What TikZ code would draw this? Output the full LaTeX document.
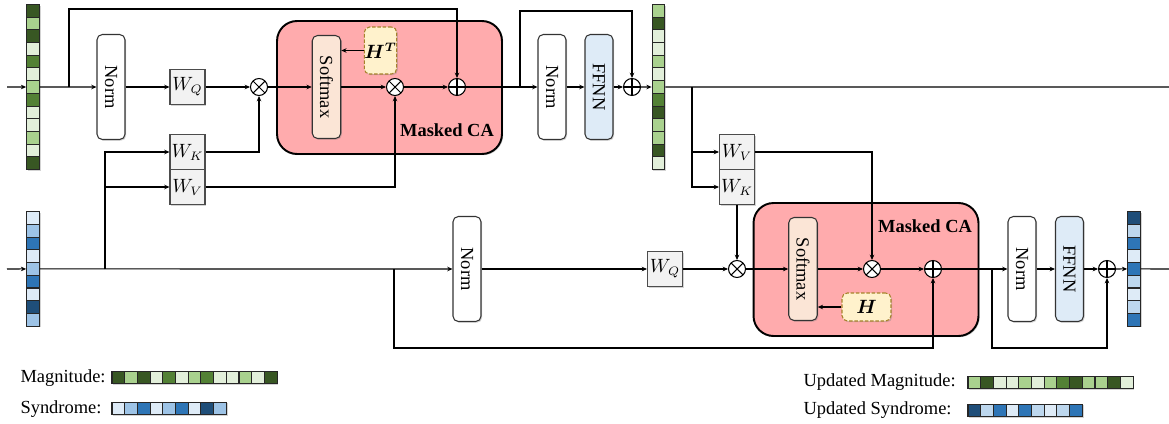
\documentclass[tikz,border=0pt]{standalone}
\usepackage{amsmath}
\usepackage{graphicx}
\usepackage{fontspec}
\setmainfont{Liberation Serif}
\usepackage{tikz}
\usetikzlibrary{
  arrows.meta,  % Stealth 箭头
  calc,         % 坐标计算
  positioning,  % 节点相对定位
  shadows       % 方块阴影
}

% 颜色
\definecolor{gd}{HTML}{385723}
\definecolor{gm}{HTML}{538135}
\definecolor{gl}{HTML}{A9D18E}
\definecolor{gv}{HTML}{E2EFDA}
\definecolor{bd}{HTML}{1F4E79}
\definecolor{bm}{HTML}{2E75B6}
\definecolor{bl}{HTML}{9DC3E6}
\definecolor{bu}{HTML}{BDD7EE}
\definecolor{bv}{HTML}{DEEBF7}
\definecolor{capink}{HTML}{FFABAD}
\definecolor{smpeach}{HTML}{FBE5D6}
\definecolor{hfill}{HTML}{FFF2CC}
\definecolor{hedge}{HTML}{A6822A}

% 竖直 / 水平的格子向量
\newcommand{\vcells}[4]{%
  \foreach \c [count=\i] in {#4}
    \node[cell, fill=\c] (#1-\i) at (#2, {#3+(\i-0.5)*12.7}) {};
}
\newcommand{\hcells}[4]{%
  \foreach \c [count=\i] in {#4}
    \node[cell, fill=\c] (#1-\i) at ({#2+(\i-0.5)*12.7}, #3) {};
}

\begin{document}
\begin{tikzpicture}[x=0.02cm, y=-0.02cm, >={Stealth[length=3pt,width=2.6pt]}, line width=0.6pt,
    font=\fontsize{10.5}{12.6}\selectfont,
    shd/.style={drop shadow={shadow xshift=0.7pt, shadow yshift=-0.7pt, opacity=0.35}},
    cell/.style={draw=black!85, inner sep=0pt, minimum size=0.254cm, shd},
    normbox/.style={draw=black!80, fill=white, rounded corners=3pt, inner sep=0pt,
      minimum width=0.56cm, minimum height=2.1cm, shd},
    ffnbox/.style={normbox, fill=bv},
    smbox/.style={normbox, fill=smpeach, minimum width=0.57cm, minimum height=2.06cm},
    wbox/.style={draw=black!70, fill=black!5, inner sep=0pt, minimum size=0.7cm, shd},
    cabox/.style={draw=black, line width=1.1pt, fill=capink, rounded corners=0.4cm,
      minimum width=4.5cm, minimum height=2.66cm, shd},
    hbox/.style={draw=hedge, dash pattern=on 2pt off 1pt, fill=hfill, rounded corners=3pt,
      inner sep=0pt, shd},
    mulop/.style={circle, draw, fill=white, inner sep=0pt, minimum size=0.34cm,
      path picture={\draw (path picture bounding box.north west) -- (path picture bounding box.south east)
        (path picture bounding box.north east) -- (path picture bounding box.south west);}},
    addop/.style={circle, draw, fill=white, inner sep=0pt, minimum size=0.34cm,
      path picture={\draw (path picture bounding box.north) -- (path picture bounding box.south)
        (path picture bounding box.east) -- (path picture bounding box.west);}},
    catext/.style={font=\fontsize{10.5}{12.6}\selectfont\bfseries},
    legend/.style={anchor=west, inner sep=0pt}]

  \useasboundingbox (0,0) rectangle (1169,423);

  % 两个 Masked CA 大框
  \node[cabox] (ca1) at (389.5,87.5) {};
  \node[cabox] (ca2) at (866,269.5) {};
  \node[catext] (ca1t) at (447,130) {Masked CA};
  \node[catext] (ca2t) at (925,226) {Masked CA};

  % 输入与输出向量
  \vcells{mag}{33}{4.45}{gd,gl,gd,gv,gm,gv,gl,gm,gv,gv,gl,gv,gd}
  \vcells{umag}{658.5}{4.45}{gl,gd,gv,gv,gl,gv,gl,gm,gd,gl,gl,gd,gv}
  \vcells{syn}{33}{211.8}{bv,bl,bm,bv,bl,bm,bv,bd,bl}
  \vcells{usyn}{1134}{211.8}{bd,bu,bm,bv,bm,bu,bv,bu,bm}

  % 上面一行
  \node[normbox] (norm1) at (111,87) {\rotatebox{-90}{Norm}};
  \node[wbox] (wq1) at (187.5,87) {$W_Q$};
  \node[wbox] (wk1) at (187.5,152) {$W_K$};
  \node[wbox] (wv1) at (187.5,187) {$W_V$};
  \node[mulop] (mul1) at (259,87) {};
  \node[smbox] (sm1) at (326.5,87) {\rotatebox{-90}{Softmax}};
  \node[hbox, minimum width=0.58cm, minimum height=0.94cm] (ht) at (380.5,50.5) {$\boldsymbol{H^{T}}$};
  \node[mulop] (mul2) at (395,87) {};
  \node[addop] (add1) at (457,87) {};
  \node[normbox] (norm2) at (552,87) {\rotatebox{-90}{Norm}};
  \node[ffnbox] (ffn1) at (599,87) {\rotatebox{-90}{FFNN}};
  \node[addop] (add2) at (632,87) {};

  % 下面一行
  \node[wbox] (wv2) at (737,152) {$W_V$};
  \node[wbox] (wk2) at (737,187) {$W_K$};
  \node[normbox] (norm3) at (467,269) {\rotatebox{-90}{Norm}};
  \node[wbox] (wq2) at (665,269) {$W_Q$};
  \node[mulop] (mul3) at (737,269) {};
  \node[smbox] (sm2) at (803,269) {\rotatebox{-90}{Softmax}};
  \node[hbox, minimum width=0.98cm, minimum height=0.56cm] (h) at (866.5,307) {$\boldsymbol{H}$};
  \node[mulop] (mul4) at (872,269) {};
  \node[addop] (add3) at (933,269) {};
  \node[normbox] (norm4) at (1022,269) {\rotatebox{-90}{Norm}};
  \node[ffnbox] (ffn2) at (1069.5,269) {\rotatebox{-90}{FFNN}};
  \node[addop] (add4) at (1107,269) {};

  % 分支点
  \coordinate (in1) at (7,87);
  \coordinate (in2) at (7,269);
  \coordinate (out1) at (1169,87);
  \coordinate (out2) at (1169,269);
  \coordinate (b1) at (69,87);
  \coordinate (t1) at (69,9);
  \coordinate (b2) at (105,269);
  \coordinate (b3) at (520,87);
  \coordinate (t2) at (520,11);
  \coordinate (b4) at (692,87);
  \coordinate (b5) at (394,269);
  \coordinate (d1) at (394,348);
  \coordinate (b6) at (992,269);
  \coordinate (d2) at (992,348);

  % 上面一行连线
  \draw[->] (in1) -- (mag-7.west);
  \draw[->] (mag-7.east) -- (norm1.west);
  \draw[->] (b1) -- (t1) -| (add1.north);
  \draw[->] (norm1) -- (wq1);
  \draw[->] (wq1) -- (mul1);
  \draw[->] (mul1) -- (sm1);
  \draw[->] (sm1) -- (mul2);
  \draw[->] (mul2) -- (add1);
  \draw[->] (ht.west) -- (ht.west -| sm1.east);
  \draw[->] (b2) |- (wk1.west);
  \draw[->] (b2) |- (wv1.west);
  \draw[->] (wk1.east) -| (mul1.south);
  \draw[->] (wv1.east) -| (mul2.south);
  \draw[->] (add1) -- (norm2);
  \draw[->] (b3) -- (t2) -| (add2.north);
  \draw[->] (norm2) -- (ffn1);
  \draw[->] (ffn1) -- (add2);
  \draw[->] (add2) -- (umag-7.west);
  \draw (umag-7.east) -- (out1);

  % 下面一行连线
  \draw[->] (b4) |- (wv2.west);
  \draw[->] (b4) |- (wk2.west);
  \draw[->] (wv2.east) -| (mul4.north);
  \draw[->] (wk2.south) -- (mul3.north);
  \draw[->] (in2) -- (syn-5.west);
  \draw[->] (syn-5.east) -- (norm3.west);
  \draw[->] (b5) -- (d1) -| (add3.south);
  \draw[->] (norm3) -- (wq2);
  \draw[->] (wq2) -- (mul3);
  \draw[->] (mul3) -- (sm2);
  \draw[->] (sm2) -- (mul4);
  \draw[->] (mul4) -- (add3);
  \draw[->] (h.west) -- (h.west -| sm2.east);
  \draw[->] (add3) -- (norm4);
  \draw[->] (b6) -- (d2) -| (add4.south);
  \draw[->] (norm4) -- (ffn2);
  \draw[->] (ffn2) -- (add4);
  \draw[->] (add4) -- (usyn-5.west);
  \draw (usyn-5.east) -- (out2);

  % 图例
  \node[legend] (lgm) at (20,378) {Magnitude:};
  \hcells{lmag}{112}{377.5}{gd,gl,gd,gv,gm,gv,gl,gm,gv,gv,gl,gv,gd}
  \node[legend] (lgs) at (20,409) {Syndrome:};
  \hcells{lsyn}{112}{408.5}{bv,bl,bm,bv,bl,bm,bv,bd,bl}
  \node[legend] (lgum) at (803,382) {Updated Magnitude:};
  \hcells{lumag}{968}{382.5}{gl,gd,gv,gv,gl,gv,gl,gm,gd,gl,gl,gd,gv}
  \node[legend] (lgus) at (803,410) {Updated Syndrome:};
  \hcells{lusyn}{968}{410.5}{bd,bu,bm,bv,bm,bu,bv,bu,bm}
\end{tikzpicture}
\end{document}
